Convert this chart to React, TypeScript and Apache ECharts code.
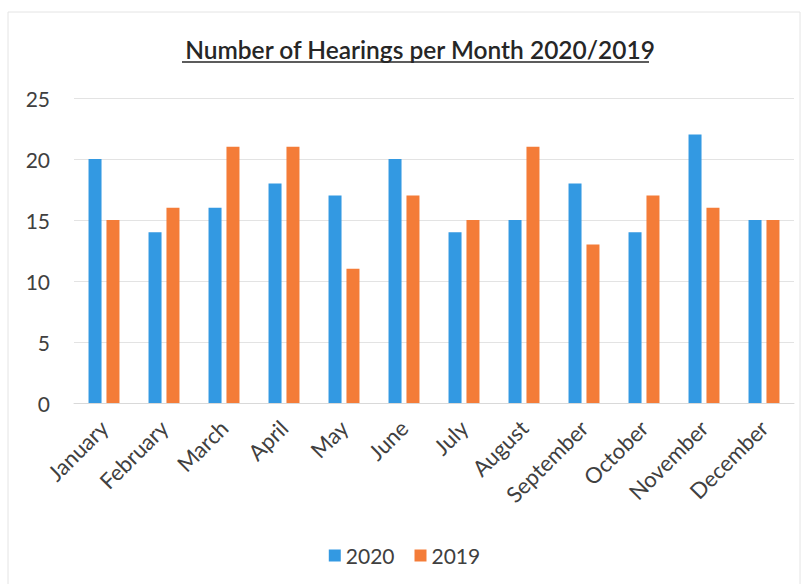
import React, { useEffect, useRef } from "react";
import * as echarts from "echarts";

const categories = ["January", "February", "March", "April", "May", "June", "July", "August", "September", "October", "November", "December"];
const values2020 = [20, 14, 16, 18, 17, 20, 14, 15, 18, 14, 22, 15];
const values2019 = [15, 16, 21, 21, 11, 17, 15, 21, 13, 17, 16, 15];
const seriesNames = ["2020", "2019"];
const titleText = "Number of Hearings per Month 2020/2019";

const FONT = "Lato, 'Open Sans', sans-serif";

export default function App() {
  const ref = useRef<HTMLDivElement>(null);
  useEffect(() => {
    document.body.style.margin = "0";
    const chart = echarts.init(ref.current!, null, { renderer: "svg" });
    chart.setOption({
      animation: false,
      backgroundColor: "#ffffff",
      title: {
        text: titleText,
        left: 415,
        textAlign: "center",
        top: 32,
        textStyle: { fontFamily: FONT, fontSize: 24.5, fontWeight: 600, color: "#262626" },
      },
      graphic: [
        { type: "line", shape: { x1: 182, y1: 62, x2: 649, y2: 62 }, style: { stroke: "#262626", lineWidth: 1.5 } },
        { type: "rect", shape: { x: 8, y: 12, width: 792, height: 580 }, style: { fill: "none", stroke: "#e4e4e4", lineWidth: 1 } },
      ],
      legend: {
        bottom: 13,
        left: "center",
        itemWidth: 12,
        itemHeight: 12,
        itemGap: 20,
        icon: "rect",
        textStyle: { fontFamily: FONT, fontSize: 21, color: "#404040" },
        data: seriesNames,
      },
      grid: { left: 74, right: 15, top: 98, bottom: 181 },
      xAxis: {
        type: "category",
        data: categories,
        axisLine: { lineStyle: { color: "#d9d9d9" } },
        axisTick: { show: false },
        axisLabel: { rotate: 45, interval: 0, fontFamily: FONT, fontSize: 22, color: "#404040", margin: 21 },
      },
      yAxis: {
        type: "value",
        min: 0,
        max: 25,
        interval: 5,
        axisLine: { show: false },
        axisTick: { show: false },
        splitLine: { lineStyle: { color: "#e3e3e3" } },
        axisLabel: { fontFamily: FONT, fontSize: 21, color: "#404040", margin: 24 },
      },
      series: [
        { name: seriesNames[0], type: "bar", data: values2020, barWidth: 13, barGap: "38%", itemStyle: { color: "#3399e2" } },
        { name: seriesNames[1], type: "bar", data: values2019, barWidth: 13, itemStyle: { color: "#f47c38" } },
      ],
    });
    return () => chart.dispose();
  }, []);
  return <div ref={ref} style={{ width: 809, height: 584 }} />;
}
